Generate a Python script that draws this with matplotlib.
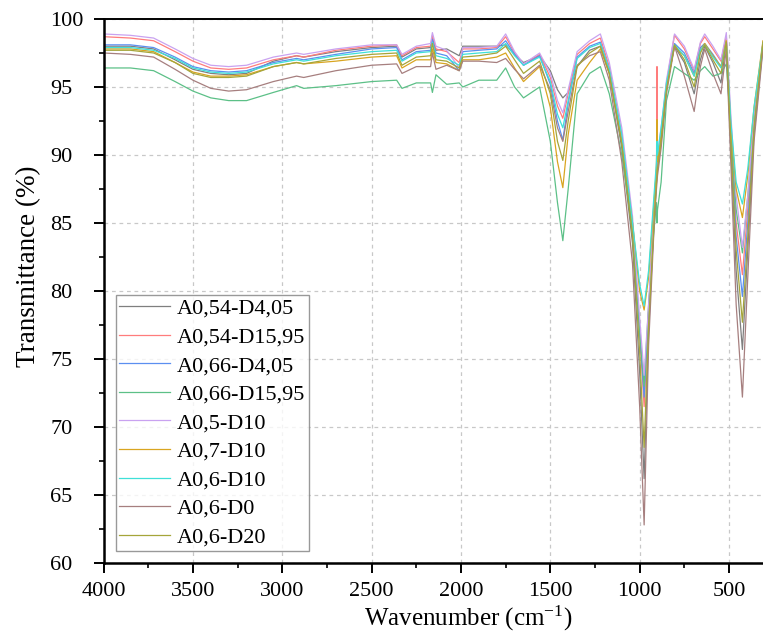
import numpy as np
import matplotlib
matplotlib.use('Agg')
import matplotlib.pyplot as plt
from matplotlib.ticker import MultipleLocator

plt.rcParams['font.family'] = ['Liberation Serif', 'DejaVu Serif']
plt.rcParams['mathtext.default'] = 'regular'

wn = [4000, 3850, 3720, 3600, 3500,
      3400, 3300, 3200, 3050, 2920,
      2880, 2700, 2500, 2360, 2330,
      2250, 2170, 2160, 2140, 2080,
      2010, 1990, 1900, 1800, 1750,
      1700, 1650, 1560, 1500, 1460,
      1430, 1400, 1350, 1280, 1220,
      1170, 1100, 1040, 1000, 975,
      950, 920, 906, 903, 900,
      880, 850, 805, 750, 695,
      660, 636, 590, 545, 515,
      490, 460, 425, 395, 360,
      310]

a054_d405 = [98.0, 98.0, 97.8, 97.0, 96.3,
             96.0, 95.9, 96.0, 96.9, 97.3,
             97.2, 97.6, 97.9, 98.0, 97.2,
             97.8, 97.9, 98.6, 97.7, 97.8,
             97.3, 98.0, 98.0, 98.0, 98.1,
             97.4, 96.8, 97.3, 96.2, 94.8,
             94.2, 94.6, 96.5, 97.7, 98.0,
             96.0, 90.5, 83.5, 74.0, 66.2,
             77.0, 85.0, 88.0, 88.5, 89.0,
             91.0, 95.0, 98.0, 96.8, 94.5,
             97.0, 98.0, 96.8, 95.3, 98.3,
             90.5, 81.5, 75.7, 83.0, 91.5,
             98.0]

a054_d1595 = [98.7, 98.6, 98.4, 97.6, 96.9,
              96.4, 96.3, 96.4, 97.0, 97.3,
              97.2, 97.7, 98.0, 98.1, 97.3,
              97.9, 98.0, 98.8, 97.8, 97.6,
              96.8, 97.8, 97.8, 97.9, 98.7,
              97.5, 96.6, 97.4, 95.7, 93.6,
              92.7, 94.5, 97.4, 98.2, 98.6,
              96.5, 91.5, 85.0, 77.0, 71.5,
              78.5, 85.5, 88.5, 96.5, 89.0,
              91.5, 95.3, 98.8, 97.8, 96.2,
              98.2, 98.7, 97.8, 96.9, 98.7,
              92.0, 85.0, 81.2, 86.0, 92.5,
              98.2]

a066_d405 = [98.1, 98.1, 97.9, 97.2, 96.5,
             96.2, 96.1, 96.2, 96.8, 97.1,
             97.0, 97.4, 97.8, 97.9, 97.0,
             97.6, 97.7, 98.5, 97.5, 97.3,
             96.2, 97.6, 97.7, 97.8, 98.4,
             97.4, 96.6, 97.3, 95.2, 92.5,
             91.1, 93.8, 97.2, 98.0, 98.3,
             96.2, 91.0, 84.5, 77.0, 72.2,
             78.5, 85.5, 88.5, 89.0, 89.5,
             91.5, 95.0, 98.2, 97.5, 96.0,
             97.9, 98.2, 97.4, 96.5, 98.4,
             91.5, 84.0, 79.6, 85.0, 92.0,
             98.0]

a066_d1595 = [96.4, 96.4, 96.2, 95.4, 94.7,
              94.2, 94.0, 94.0, 94.6, 95.1,
              94.9, 95.1, 95.4, 95.5, 94.9,
              95.3, 95.3, 94.6, 95.9, 95.2,
              95.3, 95.0, 95.5, 95.5, 96.4,
              95.0, 94.2, 95.0, 91.0, 86.5,
              83.7, 87.5, 94.5, 96.0, 96.5,
              94.5, 90.0, 84.5, 77.0, 73.0,
              79.0, 84.5, 86.5, 85.0, 86.0,
              88.0, 94.0, 96.5, 96.0, 95.5,
              96.2, 96.5, 95.8, 96.0, 96.7,
              92.0, 86.0, 82.8, 87.0, 92.5,
              98.0]

a05_d10 = [98.9, 98.8, 98.6, 97.8, 97.1,
           96.6, 96.5, 96.6, 97.2, 97.5,
           97.4, 97.8, 98.1, 98.1, 97.4,
           98.0, 98.2, 99.0, 98.0, 97.7,
           96.4, 97.9, 97.9, 98.0, 98.9,
           97.6, 96.7, 97.5, 96.0, 94.0,
           93.1, 94.8, 97.6, 98.4, 98.9,
           96.8, 92.0, 85.5, 78.0, 73.8,
           79.0, 86.0, 89.0, 89.5, 90.0,
           92.0, 95.5, 98.9, 98.0, 96.3,
           98.3, 98.9, 98.0, 97.0, 99.0,
           93.0, 87.0, 83.2, 87.0, 93.0,
           98.3]

a07_d10 = [97.8, 97.8, 97.6, 96.8, 96.1,
           95.8, 95.8, 95.9, 96.5, 96.8,
           96.7, 96.9, 97.2, 97.3, 96.4,
           97.0, 97.0, 97.8, 96.8, 96.7,
           96.2, 97.0, 97.0, 97.2, 97.5,
           96.4, 95.4, 96.5, 93.5, 89.5,
           87.6, 91.5, 95.5, 96.8, 97.8,
           96.0, 91.0, 85.0, 80.0, 78.6,
           81.0, 86.5, 89.0, 92.6, 89.5,
           91.5, 95.0, 98.0, 97.3, 95.8,
           97.7, 98.2, 97.3, 96.5, 98.4,
           92.0, 87.5, 85.4, 88.5, 93.5,
           98.4]

a06_d10 = [97.9, 97.9, 97.7, 97.1, 96.4,
           96.1, 96.0, 96.1, 96.7, 97.0,
           96.9, 97.3, 97.6, 97.7, 96.9,
           97.5, 97.6, 98.3, 97.3, 97.1,
           96.6, 97.4, 97.5, 97.6, 98.2,
           97.3, 96.6, 97.2, 95.4, 93.0,
           92.0, 94.0, 97.1, 97.9, 98.2,
           96.3, 91.5, 85.0, 80.5, 78.9,
           81.5, 87.0, 89.5, 91.0, 90.0,
           92.0, 95.3, 98.1, 97.3, 95.8,
           97.7, 98.1, 97.2, 96.4, 98.2,
           92.5, 88.0, 86.4, 89.0, 93.5,
           98.2]

a06_d0 = [97.5, 97.4, 97.2, 96.3, 95.5,
          94.9, 94.7, 94.8, 95.4, 95.8,
          95.7, 96.2, 96.6, 96.7, 96.0,
          96.5, 96.5, 97.5, 96.3, 96.6,
          96.2, 96.9, 96.9, 96.8, 97.1,
          96.3, 95.6, 96.6, 94.8, 92.0,
          91.0, 93.2, 96.6, 97.3, 97.6,
          95.5, 89.5, 82.0, 71.5, 62.8,
          76.0, 84.5, 87.5, 88.0, 88.5,
          90.5, 94.5, 98.0, 95.8, 93.2,
          96.5, 97.8, 96.0, 94.5, 97.8,
          89.5, 79.0, 72.2, 81.0, 91.0,
          97.8]

a06_d20 = [97.7, 97.7, 97.5, 96.8, 96.0,
           95.7, 95.7, 95.8, 96.5, 96.8,
           96.7, 97.1, 97.4, 97.5, 96.6,
           97.2, 97.3, 98.2, 97.0, 96.9,
           96.4, 97.2, 97.3, 97.5, 98.0,
           97.0, 96.0, 96.9, 94.5, 91.0,
           89.6, 92.5, 96.5, 97.5, 98.0,
           96.0, 90.8, 84.0, 75.5, 68.5,
           77.5, 85.0, 88.0, 88.5, 89.0,
           91.0, 94.8, 98.1, 97.0, 95.0,
           97.5, 98.1, 97.0, 96.0, 98.3,
           91.0, 83.0, 77.7, 84.0, 92.0,
           98.3]

etykiety = ['A0,54-D4,05', 'A0,54-D15,95', 'A0,66-D4,05', 'A0,66-D15,95',
            'A0,5-D10', 'A0,7-D10', 'A0,6-D10', 'A0,6-D0', 'A0,6-D20']
serie = [a054_d405, a054_d1595, a066_d405, a066_d1595,
         a05_d10, a07_d10, a06_d10, a06_d0, a06_d20]
kolory = ['#7f7f7f', '#ff7c7c', '#5b8ff0', '#5cc087',
          '#c9a2f0', '#d9a520', '#3fe0d8', '#a67f7f', '#a5a53a']

fig = plt.figure(figsize=(7.63, 6.35), dpi=100)
ax = fig.add_axes([103.6 / 763, 1 - 563 / 635, (766 - 103.6) / 763, (563 - 19) / 635])

for y, c, lab in zip(serie, kolory, etykiety):
    ax.plot(wn, y, color=c, lw=0.9, label=lab)

ax.set_xlim(4000, 293)
ax.set_ylim(60, 100)
ax.xaxis.set_major_locator(MultipleLocator(500))
ax.xaxis.set_minor_locator(MultipleLocator(250))
ax.yaxis.set_major_locator(MultipleLocator(5))
ax.yaxis.set_minor_locator(MultipleLocator(2.5))
ax.grid(True, which='major', ls=(0, (3, 3)), color='#c8c8c8', lw=0.9)

ax.tick_params(which='major', direction='out', length=7, width=1.4, labelsize=16)
ax.tick_params(which='minor', direction='out', length=3.6, width=1.2)
ax.tick_params(axis='x', which='major', pad=7)
ax.tick_params(axis='y', which='major', pad=31.5)
for t in ax.get_yticklabels():
    t.set_horizontalalignment('left')
for s in ['left', 'bottom']:
    ax.spines[s].set_linewidth(1.8)
ax.spines['top'].set_linewidth(1.4)
ax.spines['right'].set_visible(False)

ax.set_xlabel('Wavenumber (cm$^{-1}$)', fontsize=18, va='bottom')
ax.set_ylabel('Transmittance (%)', fontsize=19.5)
ax.xaxis.set_label_coords(0.55, -0.1295)
ax.yaxis.set_label_coords(-0.094, 0.546)

leg = ax.legend(loc='lower left', fontsize=16, frameon=True, fancybox=False,
                edgecolor='#808080', borderaxespad=0.55, borderpad=0.15,
                handlelength=2.3, handletextpad=0.3, labelspacing=0.36)
leg.get_frame().set_linewidth(1.0)

fig.savefig('out.png', dpi=100)
